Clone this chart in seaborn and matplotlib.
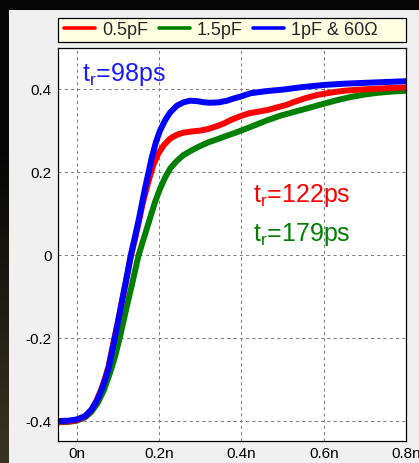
import numpy as np
import pandas as pd
import matplotlib
matplotlib.use("Agg")
import matplotlib.pyplot as plt
import seaborn as sns
from matplotlib.lines import Line2D
from matplotlib.patches import Rectangle

# ---------------- data ----------------
series_names = ["0.5pF", "1.5pF", "1pF & 60\u03a9"]
series_colors = ["#ff0000", "#008000", "#0000ff"]

time_red = [-0.046, -0.02, 0.0, 0.02, 0.035, 0.048, 0.059, 0.068, 0.077, 0.090,
            0.100, 0.112, 0.122, 0.131, 0.142, 0.150, 0.160, 0.174, 0.186, 0.198,
            0.212, 0.227, 0.243, 0.259, 0.280, 0.300, 0.320, 0.341, 0.357, 0.373,
            0.398, 0.420, 0.438, 0.465, 0.487, 0.510, 0.528, 0.555, 0.585, 0.620,
            0.650, 0.690, 0.731, 0.770, 0.800]
v_red = [-0.402, -0.401, -0.398, -0.389, -0.373, -0.350, -0.324, -0.298, -0.268, -0.205,
         -0.160, -0.100, -0.050, -0.004, 0.042, 0.078, 0.125, 0.178, 0.218, 0.245,
         0.266, 0.281, 0.290, 0.295, 0.298, 0.300, 0.304, 0.311, 0.317, 0.325,
         0.335, 0.342, 0.345, 0.350, 0.356, 0.362, 0.369, 0.378, 0.386, 0.392,
         0.396, 0.399, 0.401, 0.403, 0.404]

time_green = [-0.046, -0.02, 0.0, 0.02, 0.035, 0.050, 0.065, 0.080, 0.092, 0.104,
              0.118, 0.134, 0.150, 0.165, 0.178, 0.190, 0.202, 0.215, 0.227, 0.243,
              0.259, 0.280, 0.300, 0.320, 0.341, 0.357, 0.380, 0.402, 0.430, 0.463,
              0.495, 0.528, 0.565, 0.601, 0.635, 0.666, 0.700, 0.731, 0.765, 0.800]
v_green = [-0.403, -0.402, -0.399, -0.391, -0.378, -0.357, -0.327, -0.285, -0.247, -0.200,
           -0.138, -0.070, 0.000, 0.048, 0.090, 0.128, 0.160, 0.188, 0.209, 0.227,
           0.241, 0.253, 0.263, 0.272, 0.279, 0.285, 0.293, 0.301, 0.312, 0.325,
           0.336, 0.345, 0.355, 0.365, 0.374, 0.381, 0.387, 0.391, 0.394, 0.396]

time_blue = [-0.046, -0.02, 0.0, 0.02, 0.035, 0.048, 0.059, 0.068, 0.077, 0.091,
             0.100, 0.112, 0.122, 0.131, 0.142, 0.150, 0.166, 0.182, 0.192, 0.202,
             0.215, 0.227, 0.243, 0.259, 0.275, 0.292, 0.310, 0.324, 0.345, 0.365,
             0.380, 0.398, 0.422, 0.460, 0.503, 0.550, 0.601, 0.650, 0.698, 0.750,
             0.800]
v_blue = [-0.400, -0.399, -0.396, -0.388, -0.373, -0.352, -0.327, -0.302, -0.272, -0.205,
          -0.160, -0.098, -0.048, 0.000, 0.048, 0.084, 0.163, 0.235, 0.272, 0.300,
          0.326, 0.344, 0.360, 0.368, 0.372, 0.371, 0.368, 0.367, 0.368, 0.372,
          0.377, 0.382, 0.390, 0.395, 0.399, 0.405, 0.410, 0.413, 0.415, 0.417,
          0.419]

x_ticks = [0.0, 0.2, 0.4, 0.6, 0.8]
x_tick_labels = ["0n", "0.2n", "0.4n", "0.6n", "0.8n"]
y_ticks = [-0.4, -0.2, 0.0, 0.2, 0.4]
y_tick_labels = ["-0.4", "-0.2", "0", "0.2", "0.4"]

rise_labels = ["98ps", "122ps", "179ps"]

# ---------------- build table ----------------
df = pd.concat([
    pd.DataFrame({"t": time_red, "v": v_red, "series": series_names[0]}),
    pd.DataFrame({"t": time_green, "v": v_green, "series": series_names[1]}),
    pd.DataFrame({"t": time_blue, "v": v_blue, "series": series_names[2]}),
], ignore_index=True)

# ---------------- style ----------------
sns.set_theme(style="white")
plt.rcParams["font.family"] = ["Liberation Sans", "DejaVu Sans"]
plt.rcParams["mathtext.fontset"] = "custom"
plt.rcParams["mathtext.rm"] = "Liberation Sans"
plt.rcParams["mathtext.it"] = "Liberation Sans"

W, H = 419, 463
fig = plt.figure(figsize=(W / 100, H / 100), dpi=100)
fig.patch.set_facecolor("#050505")

# light gray window panel
fig.add_artist(Rectangle((9 / W, 0), 1 - 9 / W, (H - 10) / H, transform=fig.transFigure,
                         facecolor="#f0f0f0", edgecolor="none", zorder=-1))
# dark left strip with brownish tint toward the bottom
rows = H - 10
frac = np.clip((np.arange(rows) - 140) / (rows - 140), 0, 1)
c0 = np.array([0.02, 0.02, 0.02])
c1 = np.array([0x3a, 0x35, 0x22]) / 255
strip = (c0[None, :] * (1 - frac[:, None]) + c1[None, :] * frac[:, None])
strip = np.repeat(strip[:, None, :], 9, axis=1)
fig.figimage(strip, xo=0, yo=0, origin="upper")

ax = fig.add_axes([58 / W, 22 / H, 348 / W, 393 / H])
ax.set_facecolor("white")

palette = dict(zip(series_names, series_colors))
sns.lineplot(data=df, x="t", y="v", hue="series",
             hue_order=[series_names[1], series_names[0], series_names[2]],
             palette=palette, linewidth=4.3, estimator=None, sort=False,
             legend=False, ax=ax)

ax.set_xlim(-0.046, 0.8)
ax.set_ylim(-0.448, 0.499)
ax.set_xticks(x_ticks, labels=x_tick_labels)
ax.set_yticks(y_ticks, labels=y_tick_labels)
ax.set_xlabel("")
ax.set_ylabel("")
ax.grid(True, color="#808080", linestyle=(0, (3, 3)), linewidth=0.75)
ax.set_axisbelow(True)
ax.tick_params(length=0, labelsize=11, pad=4.5, colors="black")
for s in ax.spines.values():
    s.set_visible(True)
    s.set_color("black")
    s.set_linewidth(0.9)

# rise-time annotations
ax.text(0.012, 0.419, r"$\mathregular{t_r}$=" + rise_labels[0], color="#1a1aff",
        fontsize=18, va="baseline")
ax.text(0.427, 0.128, r"$\mathregular{t_r}$=" + rise_labels[1], color="#ff0000",
        fontsize=18, va="baseline")
ax.text(0.427, 0.034, r"$\mathregular{t_r}$=" + rise_labels[2], color="#008000",
        fontsize=18, va="baseline")

# legend box + legend
ax.add_patch(Rectangle((0, 1.016), 1.0, 0.0596, transform=ax.transAxes, clip_on=False,
                       facecolor="#ffffe1", edgecolor="black", linewidth=0.9, zorder=4))
handles = [Line2D([], [], color=c, lw=2.6) for c in series_colors]
ax.legend(handles, series_names, loc="center left", bbox_to_anchor=(0.018, 1.0458),
          bbox_transform=ax.transAxes, ncol=3, frameon=False, fontsize=13,
          handlelength=1.72, handletextpad=0.39, columnspacing=0.57,
          borderpad=0, borderaxespad=0)

fig.savefig("out.png", dpi=100, facecolor=fig.get_facecolor())
